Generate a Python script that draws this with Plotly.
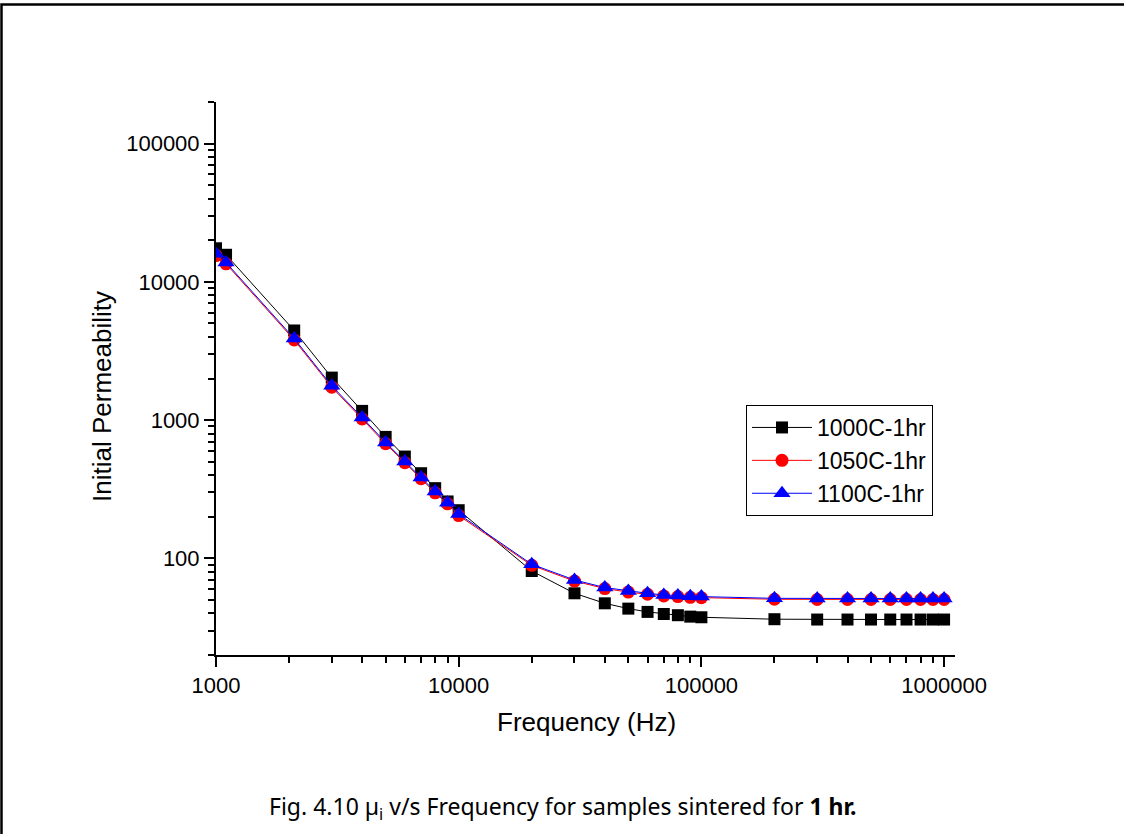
import plotly.graph_objects as go

freq = [1000, 1100, 2100, 3000, 4000, 5000, 6000, 7000, 8000, 9000, 10000,
        20000, 30000, 40000, 50000, 60000, 70000, 80000, 90000, 100000,
        200000, 300000, 400000, 500000, 600000, 700000, 800000, 900000, 1000000]

mu_1000C = [17500, 15700, 4450, 2030, 1166, 756, 545, 413, 322, 258, 223,
            81.0, 55.9, 47.3, 43.3, 41.0, 39.6, 38.8, 37.9, 37.5,
            36.3, 36.1, 36.1, 36.1, 36.1, 36.1, 36.1, 36.1, 36.1]

mu_1050C = [15500, 13500, 3800, 1730, 1020, 675, 492, 377, 298, 248, 204,
            89.0, 68.5, 60.5, 57.0, 55.0, 53.5, 52.9, 52.3, 52.0,
            50.6, 50.4, 50.4, 50.4, 50.4, 50.4, 50.4, 50.4, 50.4]

mu_1100C = [16000, 13800, 3890, 1770, 1044, 689, 502, 384, 304, 253, 209,
            90.6, 69.8, 61.5, 58.1, 55.9, 54.4, 53.8, 53.2, 52.9,
            51.4, 51.2, 51.2, 51.2, 51.2, 51.2, 51.2, 51.2, 51.2]

series_names = ["1000C-1hr", "1050C-1hr", "1100C-1hr"]
x_tick_vals = [1000, 10000, 100000, 1000000]
x_tick_text = ["1000", "10000", "100000", "1000000"]
y_tick_vals = [100, 1000, 10000, 100000]
y_tick_text = ["100", "1000", "10000", "100000"]

x_title = "Frequency (Hz)"
y_title = "Initial Permeability"
caption = "Fig. 4.10 \u00b5<sub>i</sub> v/s Frequency for samples sintered for <b>1 hr.</b>"

FONT = "Liberation Sans, Arial, sans-serif"

fig = go.Figure()
fig.add_trace(go.Scatter(x=freq, y=mu_1000C, name=series_names[0], mode="lines+markers",
                         line=dict(color="black", width=1),
                         marker=dict(symbol="square", size=12, color="black")))
fig.add_trace(go.Scatter(x=freq, y=mu_1050C, name=series_names[1], mode="lines+markers",
                         line=dict(color="#ff0000", width=1),
                         marker=dict(symbol="circle", size=13, color="#ff0000")))
fig.add_trace(go.Scatter(x=freq, y=mu_1100C, name=series_names[2], mode="lines+markers",
                         line=dict(color="#0000ff", width=1),
                         marker=dict(symbol="triangle-up", size=15, color="#0000ff")))

L, R, T, B = 216, 955, 102, 655
W, H = 1126, 837

def px(xp):
    return (xp - L) / (R - L)

def py(yp):
    return (B - yp) / (B - T)

axis_common = dict(showline=True, linecolor="black", linewidth=2, mirror=False,
                   ticks="outside", ticklen=10, tickwidth=2, tickcolor="black",
                   showgrid=False, zeroline=False,
                   tickfont=dict(family=FONT, size=22, color="black"),
                   minor=dict(ticks="outside", ticklen=6, tickwidth=2, tickcolor="black",
                              dtick="D1", showgrid=False))

fig.update_xaxes(type="log", range=[3, 6.045], tickvals=x_tick_vals, ticktext=x_tick_text,
                 **axis_common)
fig.update_yaxes(type="log", range=[1.30103, 5.30103], tickvals=y_tick_vals, ticktext=y_tick_text,
                 ticklabelstandoff=0, **axis_common)

frame_path = "M {:.5f},{:.5f} L {:.5f},{:.5f} L {:.5f},{:.5f}".format(
    px(1.5), py(834), px(1.5), py(4.5), px(1124), py(4.5))

fig.update_layout(
    width=W, height=H,
    margin=dict(l=L, r=W - R, t=T, b=H - B, pad=0),
    paper_bgcolor="white", plot_bgcolor="white",
    font=dict(family=FONT, color="black"),
    showlegend=True,
    legend=dict(x=px(746), y=py(405), xanchor="left", yanchor="top",
                bordercolor="black", borderwidth=1, bgcolor="white",
                font=dict(family=FONT, size=23, color="black"),
                itemwidth=60, tracegroupgap=0),
    annotations=[
        dict(text=x_title, x=px(586), y=py(722), xref="paper", yref="paper",
             showarrow=False, xanchor="center", yanchor="middle",
             font=dict(family=FONT, size=26, color="black")),
        dict(text=y_title, x=px(102), y=py(397), xref="paper", yref="paper",
             showarrow=False, xanchor="center", yanchor="middle", textangle=-90,
             font=dict(family=FONT, size=26, color="black")),
        dict(text=caption, x=px(563), y=py(808), xref="paper", yref="paper",
             showarrow=False, xanchor="center", yanchor="middle",
             font=dict(family="Liberation Sans Narrow, Noto Sans, sans-serif", size=23, color="black")),
    ],
    shapes=[
        dict(type="path", xref="paper", yref="paper", path=frame_path,
             line=dict(color="black", width=2.5), fillcolor="rgba(0,0,0,0)"),
    ],
)

fig.write_html("out.html")
